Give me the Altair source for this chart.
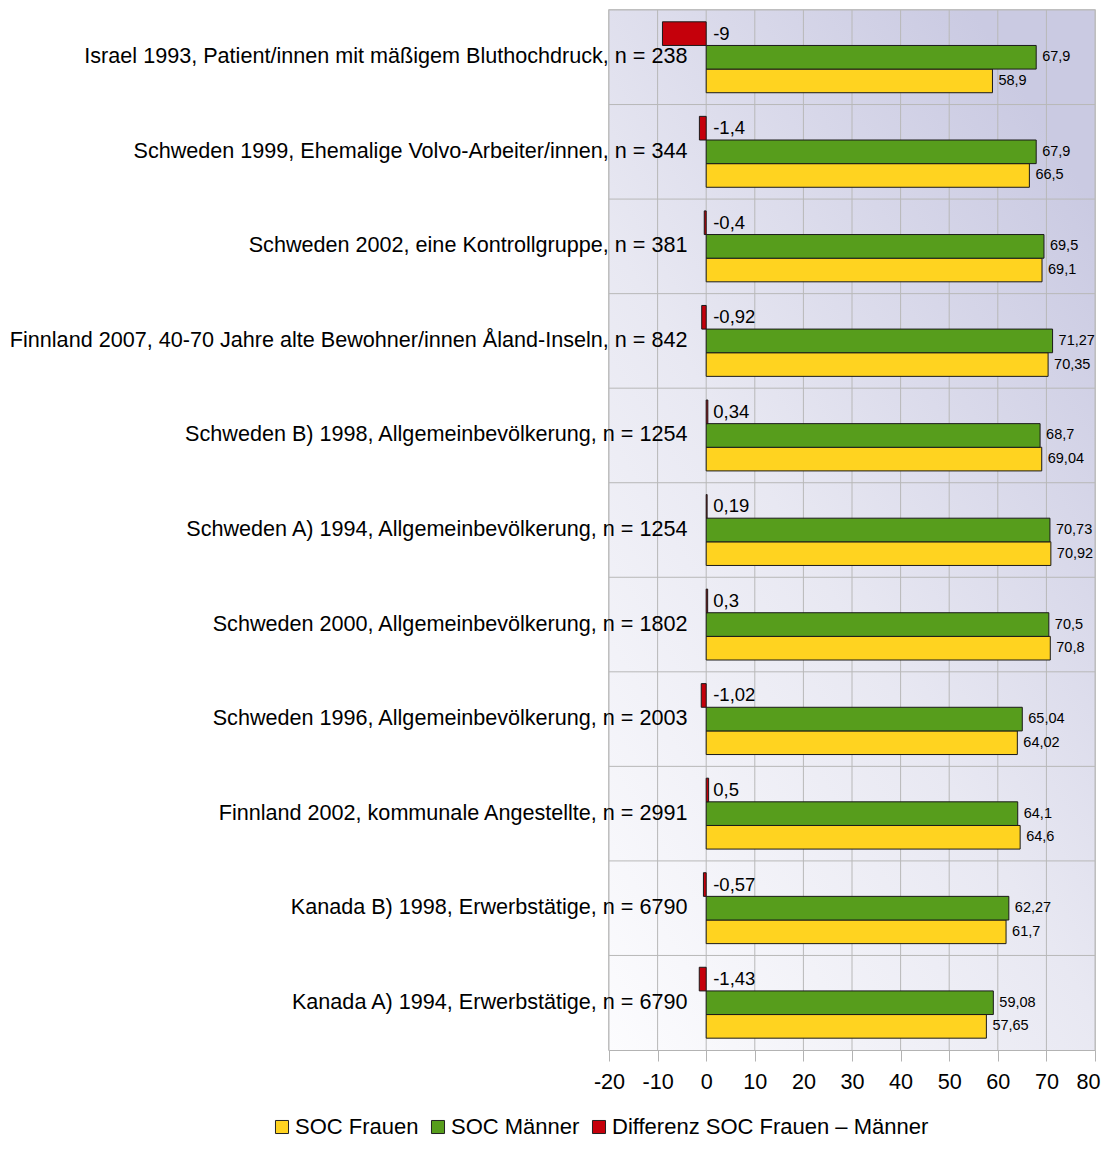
import altair as alt
import pandas as pd

categories = [
    "Israel 1993, Patient/innen mit mäßigem Bluthochdruck, n = 238",
    "Schweden 1999, Ehemalige Volvo-Arbeiter/innen, n = 344",
    "Schweden 2002, eine Kontrollgruppe, n = 381",
    "Finnland 2007, 40-70 Jahre alte Bewohner/innen Åland-Inseln, n = 842",
    "Schweden B) 1998, Allgemeinbevölkerung, n = 1254",
    "Schweden A) 1994, Allgemeinbevölkerung, n = 1254",
    "Schweden 2000, Allgemeinbevölkerung, n = 1802",
    "Schweden 1996, Allgemeinbevölkerung, n = 2003",
    "Finnland 2002, kommunale Angestellte, n = 2991",
    "Kanada B) 1998, Erwerbstätige, n = 6790",
    "Kanada A) 1994, Erwerbstätige, n = 6790",
]
soc_frauen = [58.9, 66.5, 69.1, 70.35, 69.04, 70.92, 70.8, 64.02, 64.6, 61.7, 57.65]
soc_maenner = [67.9, 67.9, 69.5, 71.27, 68.7, 70.73, 70.5, 65.04, 64.1, 62.27, 59.08]
differenz = [-9, -1.4, -0.4, -0.92, 0.34, 0.19, 0.3, -1.02, 0.5, -0.57, -1.43]
x_ticks = [-20, -10, 0, 10, 20, 30, 40, 50, 60, 70, 80]

S_F = "SOC Frauen"
S_M = "SOC Männer"
S_D = "Differenz SOC Frauen – Männer"
series_order_legend = [S_F, S_M, S_D]
series_order_band = [S_D, S_M, S_F]
colors = ["#ffd320", "#579d1c", "#c5000b"]


def fmt(v):
    return f"{v:g}".replace(".", ",")


rows = []
for c, f, m, d in zip(categories, soc_frauen, soc_maenner, differenz):
    rows.append({"cat": c, "series": S_F, "value": f, "label": fmt(f)})
    rows.append({"cat": c, "series": S_M, "value": m, "label": fmt(m)})
    rows.append({"cat": c, "series": S_D, "value": d, "label": fmt(d)})
df = pd.DataFrame(rows)
cat_df = pd.DataFrame({"cat": categories})
tick_df = pd.DataFrame({"t": x_ticks})

W, H = 486, 1040
FONT = "Liberation Sans"

xscale = alt.Scale(domain=[-20, 80], nice=False, zero=False)
yscale = alt.Scale(paddingInner=0, paddingOuter=0)
yoff_scale = alt.Scale(paddingInner=0, paddingOuter=0.5)

YAXIS = alt.Axis(labelPadding=-78, ticks=False, domain=False, grid=False,
                 labelFontSize=21.6, labelColor="#000", labelLimit=1000,
                 labelFont=FONT, zindex=2, labelAlign="right",
                 labelBaseline="middle")
XAXIS = alt.Axis(values=x_ticks, grid=False, tickSize=11, tickColor="#b3b3b3",
                 domainColor="#b3b3b3", labelFontSize=21.6, labelColor="#000",
                 labelFont=FONT, labelPadding=10, zindex=2, labelOverlap=False,
                 labelFlush=False, labelExpr="toString(datum.value)",
                 labelOffset={"condition": {"test": "datum.value === 80", "value": -7},
                              "value": 0})


def Y(band=None):
    if band is None:
        return alt.Y("cat:N", sort=categories, scale=yscale, title=None, axis=YAXIS)
    return alt.Y("cat:N", sort=categories, scale=yscale, title=None, axis=YAXIS,
                 bandPosition=band)


def X(field):
    return alt.X(field, scale=xscale, title=None, axis=XAXIS)


YOFF = alt.YOffset("series:N", sort=series_order_band, scale=yoff_scale)

bg = alt.Chart(alt.Data(values=[{}])).mark_rect(
    color=alt.Gradient(
        gradient="linear", x1=0, y1=1, x2=0.75, y2=0,
        stops=[alt.GradientStop(offset=0, color="#fcfcfe"),
               alt.GradientStop(offset=0.5, color="#e8e8f2"),
               alt.GradientStop(offset=1, color="#cacae2")]
    )
).encode(x=alt.value(0), x2=alt.value("width"), y=alt.value(0), y2=alt.value("height"))

vgrid = alt.Chart(tick_df).mark_rule(color="#b8b8b8", strokeWidth=1).encode(
    x=X("t:Q")
)

hgrid = alt.Chart(cat_df).mark_rule(color="#b8b8b8", strokeWidth=1).encode(
    y=Y(0)
)

bars = alt.Chart(df).mark_bar(stroke="#1a1a1a", strokeWidth=1).encode(
    x=X("value:Q"),
    x2=alt.datum(0),
    y=Y(),
    yOffset=YOFF,
    color=alt.Color("series:N", sort=series_order_legend,
                    scale=alt.Scale(domain=series_order_legend, range=colors),
                    legend=alt.Legend(title=None, orient="none", direction="horizontal",
                                      legendX=-338, legendY=1106, symbolType="square",
                                      symbolSize=170, symbolStrokeColor="#222",
                                      symbolStrokeWidth=1, labelFontSize=22,
                                      labelFont=FONT, labelColor="#000",
                                      columnPadding=8, labelOffset=2,
                                      labelLimit=1000)),
)

val_labels = alt.Chart(df).transform_filter(
    alt.datum.series != S_D
).mark_text(align="left", baseline="middle", dx=6, fontSize=14.5, font=FONT,
            color="#000").encode(
    x=X("value:Q"),
    y=Y(),
    yOffset=YOFF,
    text="label:N",
)

diff_labels = alt.Chart(df).transform_filter(
    alt.datum.series == S_D
).mark_text(align="left", baseline="middle", dx=7, fontSize=18.5, font=FONT,
            color="#000").encode(
    x=alt.datum(0, scale=xscale, axis=XAXIS),
    y=Y(),
    yOffset=YOFF,
    text="label:N",
)

chart = alt.layer(bg, vgrid, hgrid, bars, val_labels, diff_labels).properties(
    width=W, height=H,
    autosize=alt.AutoSizeParams(type="none"),
    padding={"left": 601, "top": 2, "right": 6, "bottom": 91},
).configure_view(stroke="#b3b3b3", strokeWidth=1.5)

chart.save("out.html", embed_options={"renderer": "svg", "actions": False})
